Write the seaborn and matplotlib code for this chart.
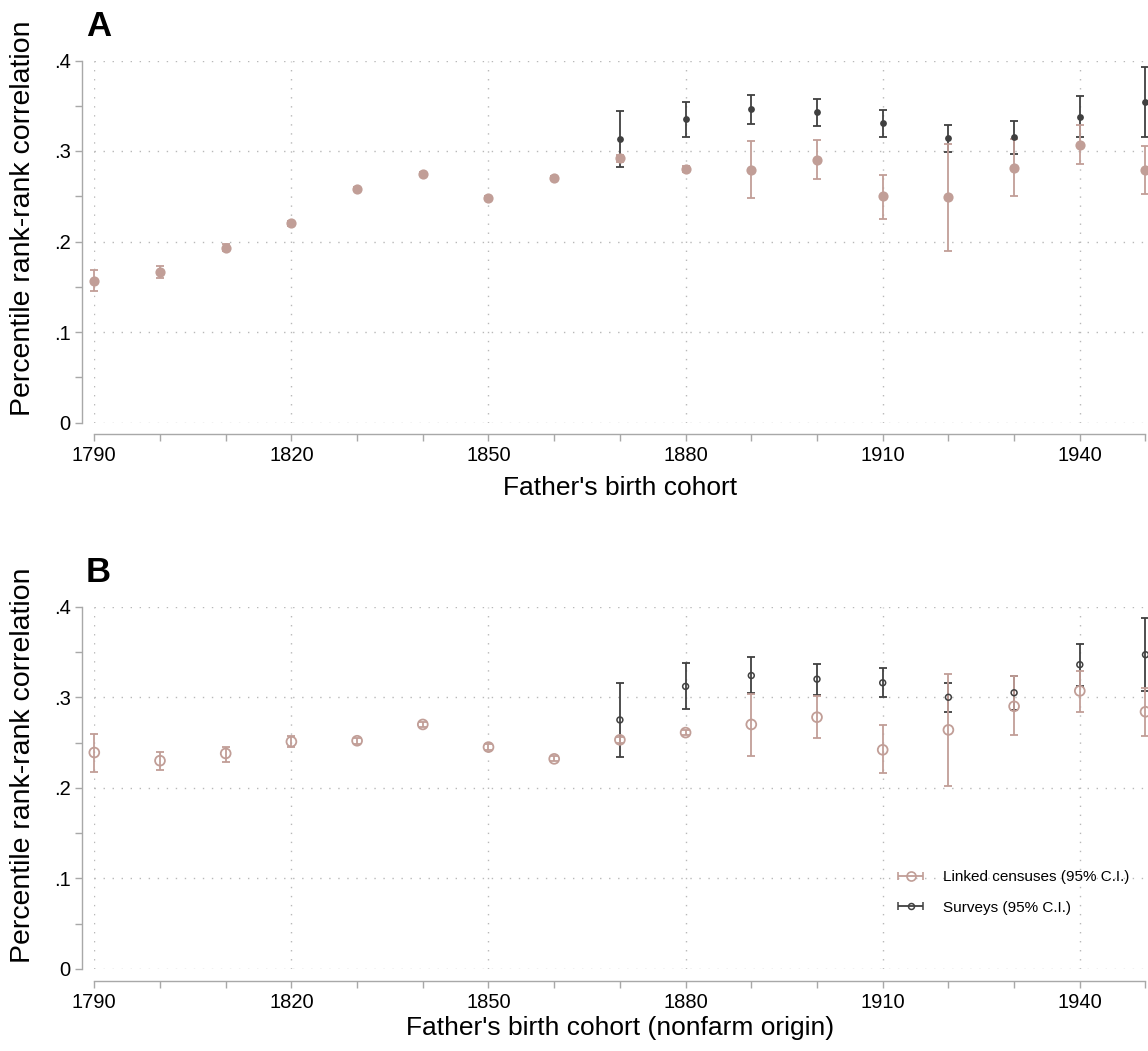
import numpy as np
import pandas as pd
import matplotlib
matplotlib.use("Agg")
import matplotlib.pyplot as plt
from matplotlib.legend_handler import HandlerErrorbar
import seaborn as sns

sns.set_theme(style="white")
plt.rcParams['font.family'] = ['Liberation Sans', 'DejaVu Sans']
plt.rcParams['text.color'] = 'black'
plt.rcParams['xtick.labelcolor'] = 'black'
plt.rcParams['ytick.labelcolor'] = 'black'

years = list(range(1790, 1951, 10))
survey_years = list(range(1870, 1951, 10))

# panel A: all fathers
linked_a = [.156, .166, .193, .220, .258, .275, .248, .270, .292, .280, .279, .290, .250, .249, .281, .307, .279]
linked_a_lo = [.145, .160, .189, .217, .256, .273, .246, .268, .288, .277, .248, .269, .225, .190, .250, .286, .253]
linked_a_hi = [.168, .173, .197, .223, .260, .277, .250, .272, .296, .283, .311, .312, .274, .308, .313, .329, .306]
survey_a = [.313, .335, .346, .343, .331, .314, .315, .338, .354]
survey_a_lo = [.282, .315, .330, .328, .316, .299, .297, .315, .315]
survey_a_hi = [.344, .354, .362, .358, .345, .329, .333, .361, .393]

# panel B: nonfarm origin
linked_b = [.239, .230, .238, .251, .252, .270, .245, .232, .253, .261, .270, .278, .242, .264, .290, .307, .284]
linked_b_lo = [.218, .220, .229, .245, .248, .267, .242, .230, .250, .258, .235, .255, .216, .202, .258, .284, .257]
linked_b_hi = [.259, .240, .245, .257, .255, .273, .248, .235, .256, .264, .304, .301, .269, .326, .323, .329, .310]
survey_b = [.275, .312, .324, .320, .316, .300, .305, .336, .347]
survey_b_lo = [.234, .287, .305, .302, .300, .284, .286, .312, .307]
survey_b_hi = [.316, .338, .344, .337, .332, .316, .323, .359, .387]

LINK = "#c19e97"
SURV = "#404040"
AXC = "#a8a8a8"

W, H = 1148, 1051
fig = plt.figure(figsize=(W / 100, H / 100), dpi=100)


def px_axes(top, bottom):
    left, right = 94.3, 1145.5
    return fig.add_axes([left / W, 1 - bottom / H, (right - left) / W, (bottom - top) / H])


def draw_panel(ax, lk, lk_lo, lk_hi, sv, sv_lo, sv_hi, hollow):
    dl = pd.DataFrame({"year": years, "est": lk, "lo": lk_lo, "hi": lk_hi})
    ds = pd.DataFrame({"year": survey_years, "est": sv, "lo": sv_lo, "hi": sv_hi})

    ax.errorbar(ds.year, ds.est, yerr=[ds.est - ds.lo, ds.hi - ds.est], fmt="none",
                ecolor=SURV, elinewidth=1.3, capsize=2.6, capthick=1.3, clip_on=False, zorder=3)
    ax.errorbar(dl.year, dl.est, yerr=[dl.est - dl.lo, dl.hi - dl.est], fmt="none",
                ecolor=LINK, elinewidth=1.3, capsize=2.6, capthick=1.3, clip_on=False, zorder=4)
    if hollow:
        sns.scatterplot(data=dl, x="year", y="est", ax=ax, marker="o", s=50,
                        facecolor="none", edgecolor=LINK, linewidth=1.3, zorder=5, clip_on=False)
        sns.scatterplot(data=ds, x="year", y="est", ax=ax, marker="o", s=18,
                        facecolor="none", edgecolor=SURV, linewidth=1.1, zorder=6, clip_on=False)
    else:
        sns.scatterplot(data=dl, x="year", y="est", ax=ax, marker="o", s=54,
                        color=LINK, linewidth=0, zorder=5, clip_on=False)
        sns.scatterplot(data=ds, x="year", y="est", ax=ax, marker="o", s=24,
                        color=SURV, linewidth=0, zorder=6, clip_on=False)

    ax.set_xlim(1790, 1950)
    ax.set_ylim(0, 0.4)
    ax.set_xticks(range(1790, 1941, 30))
    ax.set_xticks(range(1790, 1951, 10), minor=True)
    ax.set_yticks([0, .1, .2, .3, .4])
    ax.set_yticklabels(["0", ".1", ".2", ".3", ".4"])
    ax.set_yticks(np.arange(0.05, 0.4, 0.1), minor=True)
    ax.tick_params(which="both", direction="out", length=5, width=1, color=AXC,
                   labelsize=14.5, pad=3.5, left=True, bottom=True)
    ax.grid(True, which="major", color="#b8b8b8", linestyle=(0, (1, 5.5)), linewidth=1)
    for side in ["top", "right"]:
        ax.spines[side].set_visible(False)
    for side in ["left", "bottom"]:
        ax.spines[side].set_position(("outward", 8.6))
        ax.spines[side].set_color(AXC)
        ax.spines[side].set_linewidth(1)
    ax.spines["left"].set_bounds(0, 0.4)
    ax.spines["bottom"].set_bounds(1790, 1950)
    ax.set_xlabel("")
    ax.set_ylabel("")


ax_a = px_axes(60.5, 422.5)
draw_panel(ax_a, linked_a, linked_a_lo, linked_a_hi, survey_a, survey_a_lo, survey_a_hi, False)
ax_b = px_axes(606.7, 969)
draw_panel(ax_b, linked_b, linked_b_lo, linked_b_hi, survey_b, survey_b_lo, survey_b_hi, True)

# legend handles with horizontal bars, as in Stata
h1 = ax_b.errorbar([np.nan], [np.nan], xerr=[[1], [1]], fmt="o", color=LINK, ms=6.5,
                   mfc="none", mew=1.2, elinewidth=1.3, capsize=2.6, capthick=1.3)
h2 = ax_b.errorbar([np.nan], [np.nan], xerr=[[1], [1]], fmt="o", color=SURV, ms=4.3,
                   mfc="none", mew=1.1, elinewidth=1.3, capsize=2.6, capthick=1.3)
ax_b.legend([h1, h2], ["Linked censuses (95% C.I.)", "Surveys (95% C.I.)"],
            loc="upper left", bbox_to_anchor=(898 / W, 1 - 870 / H), bbox_transform=fig.transFigure,
            frameon=False, fontsize=11, handlelength=1.65, handletextpad=1.3,
            labelspacing=1.1, borderpad=0, borderaxespad=0,
            handler_map={h1: HandlerErrorbar(xerr_size=0.8), h2: HandlerErrorbar(xerr_size=0.8)})

fig.text(86 / W, 1 - 26 / H, "A", fontsize=25, fontweight="bold", va="center", ha="left")
fig.text(86 / W, 1 - 572 / H, "B", fontsize=25, fontweight="bold", va="center", ha="left")

fig.text(620 / W, 1 - 495 / H, "Father's birth cohort", fontsize=19, ha="center", va="baseline")
fig.text(620 / W, 1 - 1035 / H, "Father's birth cohort (nonfarm origin)", fontsize=19,
         ha="center", va="baseline")
fig.text(23 / W, 1 - 218 / H, "Percentile rank-rank correlation", fontsize=20.5,
         rotation=90, ha="center", va="center")
fig.text(23 / W, 1 - 765 / H, "Percentile rank-rank correlation", fontsize=20.5,
         rotation=90, ha="center", va="center")

fig.savefig("out.png", dpi=100)
